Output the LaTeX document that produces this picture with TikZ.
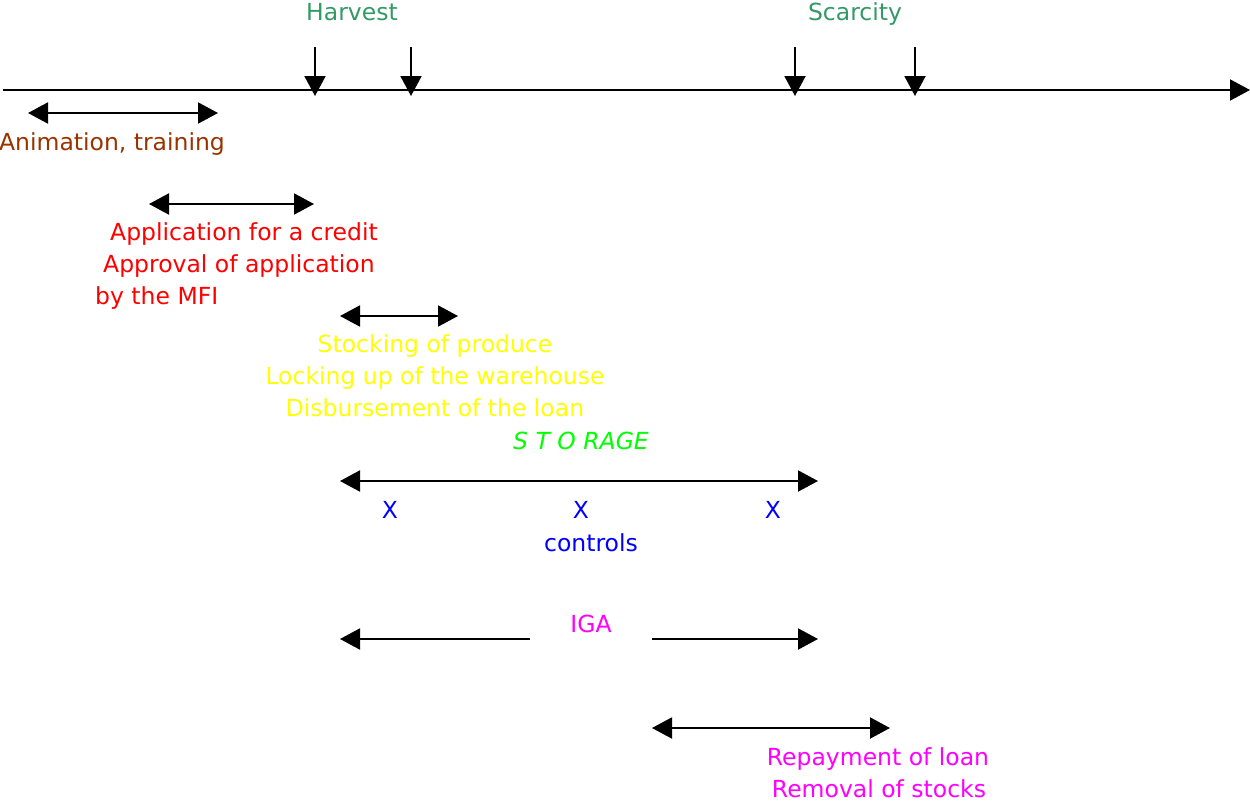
\documentclass[tikz,border=0pt]{standalone}
\usepackage{fontspec}
\setmainfont{DejaVu Sans}
\usetikzlibrary{arrows.meta}
\definecolor{seagr}{RGB}{51,153,102}
\definecolor{brownish}{RGB}{153,51,0}
\definecolor{yel}{RGB}{255,255,0}
\definecolor{lime}{RGB}{0,255,0}
\definecolor{blu}{RGB}{0,0,255}
\definecolor{mag}{RGB}{255,0,255}
\definecolor{rd}{RGB}{255,0,0}
\begin{document}
\begin{tikzpicture}[x=1pt,y=-1pt,
  lbl/.style={font=\fontsize{23.5}{32}\selectfont, inner sep=0pt, anchor=base},
  lblw/.style={lbl, anchor=base west},
  conn/.style={line width=2pt, -{Triangle[length=20pt,width=21pt]}},
  dbl/.style={line width=2pt, {Triangle[length=20pt,width=21pt]}-{Triangle[length=20pt,width=21pt]}}]
\useasboundingbox (0,0) rectangle (1250,803);
% timeline
\coordinate (t0) at (3,90);
\coordinate (t1) at (1250,90);
\draw[conn] (t0) -- (t1);
% markers
\foreach \n/\x in {h1/315,h2/411,s1/795,s2/915}{
  \coordinate (\n a) at (\x,47);
  \coordinate (\n b) at (\x,96);
  \draw[conn] (\n a) -- (\n b);
}
\node[lbl, text=seagr] (harv) at (352,20) {Harvest};
\node[lbl, text=seagr] (scar) at (855,20) {Scarcity};
% animation
\coordinate (a0) at (28,113); \coordinate (a1) at (218,113);
\draw[dbl] (a0) -- (a1);
\node[lbl, text=brownish] (anim) at (112,150) {Animation, training};
% application
\coordinate (p0) at (149,204); \coordinate (p1) at (314,204);
\draw[dbl] (p0) -- (p1);
\node[lblw, text=rd] (app1) at (110,240) {Application for a credit};
\node[lblw, text=rd] (app2) at (103,272) {Approval of application};
\node[lblw, text=rd] (app3) at (95,304) {by the MFI};
% stocking
\coordinate (k0) at (340,316); \coordinate (k1) at (458,316);
\draw[dbl] (k0) -- (k1);
\node[lbl, text=yel] (st1) at (435,352) {Stocking of produce};
\node[lbl, text=yel] (st2) at (435,384) {Locking up of the warehouse};
\node[lbl, text=yel] (st3) at (435,416) {Disbursement of the loan};
\node[lbl, text=lime, font=\fontsize{23.5}{32}\selectfont\itshape] (stor) at (581,449) {S T O RAGE};
% storage period
\coordinate (g0) at (340,481); \coordinate (g1) at (818,481);
\draw[dbl] (g0) -- (g1);
\node[lbl, text=blu] (x1) at (390,518) {X};
\node[lbl, text=blu] (x2) at (581,518) {X};
\node[lbl, text=blu] (x3) at (773,518) {X};
\node[lbl, text=blu] (ctrl) at (591,551) {controls};
% IGA
\node[lbl, text=mag] (iga) at (591,632) {IGA};
\coordinate (i0) at (340,639); \coordinate (i1) at (530,639);
\coordinate (i2) at (652,639); \coordinate (i3) at (818,639);
\draw[conn] (i1) -- (i0);
\draw[conn] (i2) -- (i3);
% repayment
\coordinate (r0) at (652,728); \coordinate (r1) at (890,728);
\draw[dbl] (r0) -- (r1);
\node[lbl, text=mag] (rep1) at (878,765) {Repayment of loan};
\node[lbl, text=mag] (rep2) at (879,797) {Removal of stocks};
\end{tikzpicture}
\end{document}
